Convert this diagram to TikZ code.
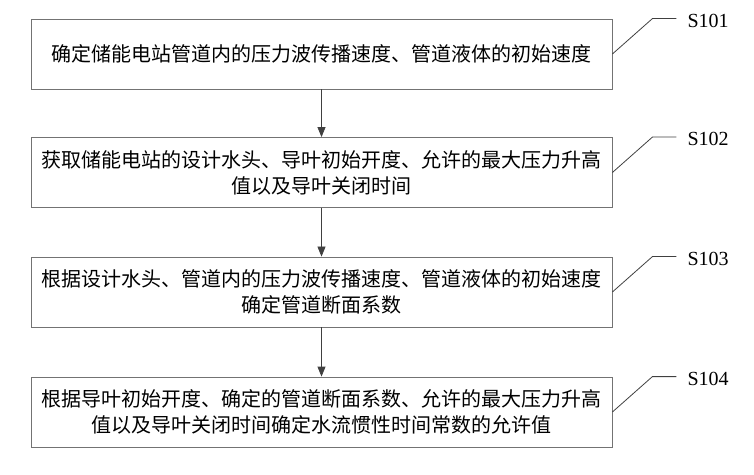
\documentclass[tikz,border=0pt]{standalone}
\usepackage{fontspec}
\setmainfont{Liberation Serif}
\newfontfamily\cjk{Noto Sans CJK SC}
\usetikzlibrary{arrows.meta,calc}

\tikzset{
  stepbox/.style={draw=black!55, line width=0.8pt, minimum width=581pt,
    minimum height=70pt, align=center, inner sep=0pt,
    font=\cjk\fontsize{20pt}{26pt}\selectfont},
  flow/.style={draw=black!75, line width=0.8pt, -{Triangle[length=10pt,width=8pt]}},
  tagline/.style={draw=black!75, line width=0.8pt},
  steplabel/.style={anchor=west, inner sep=0pt, font=\fontsize{20pt}{22pt}\selectfont}
}

\begin{document}
\begin{tikzpicture}[x=1pt,y=1pt]
  \useasboundingbox (0,0) rectangle (754,474);

  \node[stepbox] (s1) at (321.5,420) {确定储能电站管道内的压力波传播速度、管道液体的初始速度};
  \node[stepbox] (s2) at (321.5,301.5) {获取储能电站的设计水头、导叶初始开度、允许的最大压力升高\\值以及导叶关闭时间};
  \node[stepbox] (s3) at (321.5,182) {根据设计水头、管道内的压力波传播速度、管道液体的初始速度\\确定管道断面系数};
  \node[stepbox] (s4) at (321.5,62) {根据导叶初始开度、确定的管道断面系数、允许的最大压力升高\\值以及导叶关闭时间确定水流惯性时间常数的允许值};

  \draw[flow] (s1) -- (s2);
  \draw[flow] (s2) -- (s3);
  \draw[flow] (s3) -- (s4);

  % step numbers
  \foreach \i/\n in {1/S101,2/S102,3/S103,4/S104} {
    \draw[tagline] (s\i.east) -- ($(s\i.north east)+(40,0)$) coordinate (t\i)
      -- ++(24,0) coordinate (e\i);
    \node[steplabel] (l\i) at ($(e\i)+(11,-2)$) {\n};
  }

\end{tikzpicture}
\end{document}
